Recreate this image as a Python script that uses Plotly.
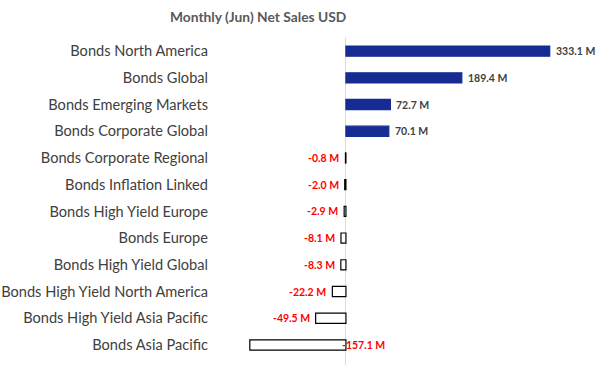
import plotly.graph_objects as go

categories = ["Bonds North America", "Bonds Global", "Bonds Emerging Markets",
              "Bonds Corporate Global", "Bonds Corporate Regional", "Bonds Inflation Linked",
              "Bonds High Yield Europe", "Bonds Europe", "Bonds High Yield Global",
              "Bonds High Yield North America", "Bonds High Yield Asia Pacific", "Bonds Asia Pacific"]
values = [333.1, 189.4, 72.7, 70.1, -0.8, -2.0, -2.9, -8.1, -8.3, -22.2, -49.5, -157.1]
labels = [f"{v:.1f} M" for v in values]

POS = "#172C93"
W, H = 604, 365
L, R, T, B = 215, 6, 38, 0

fig = go.Figure()
fig.add_trace(go.Bar(
    x=values, y=categories, orientation="h", width=0.38,
    marker=dict(color=[POS if v > 0 else "white" for v in values],
                line=dict(color=[POS if v > 0 else "black" for v in values], width=1.2)),
    hoverinfo="skip",
))

ann = []
for c, v, t in zip(categories, values, labels):
    if v > 0:
        ann.append(dict(x=v, y=c, text=f"<b>{t}</b>", xanchor="left", xshift=4, showarrow=False,
                        font=dict(family="Lato", size=10.5, color="#404040")))
    elif v < -100:
        ann.append(dict(x=0, y=c, text=f"<b>{t}</b>", xanchor="left", xshift=-6, showarrow=False,
                        font=dict(family="Lato", size=10.5, color="#FF0000")))
    else:
        ann.append(dict(x=v, y=c, text=f"<b>{t}</b>", xanchor="right", xshift=-4, showarrow=False,
                        font=dict(family="Lato", size=10.5, color="#FF0000")))

pw, ph = W - L - R, H - T - B
ann.append(dict(x=(258 - L) / pw, y=1 + (T - 16) / ph, xref="paper", yref="paper",
                text="<b>Monthly (Jun) Net Sales USD</b>",
                showarrow=False, font=dict(family="Lato", size=13.8, color="#595959"),
                xanchor="center", yanchor="middle"))

fig.update_layout(
    width=W, height=H,
    margin=dict(l=L, r=R, t=T, b=B, autoexpand=False),
    paper_bgcolor="white", plot_bgcolor="white",
    showlegend=False,
    annotations=ann,
    xaxis=dict(range=[-214, 412], showgrid=False, showticklabels=False, ticks="",
               zeroline=True, zerolinecolor="#D9D9D9", zerolinewidth=1, showline=False,
               automargin=False),
    yaxis=dict(range=[11.75, -0.49], showgrid=False, ticks="", showline=False, automargin=False,
               tickfont=dict(family="Lato", size=14.6, color="#404040"), ticklabelstandoff=6),
)
fig.write_html("out.html", config={"displayModeBar": False},
               post_script="document.body.style.margin='0';document.body.style.overflow='hidden';")
